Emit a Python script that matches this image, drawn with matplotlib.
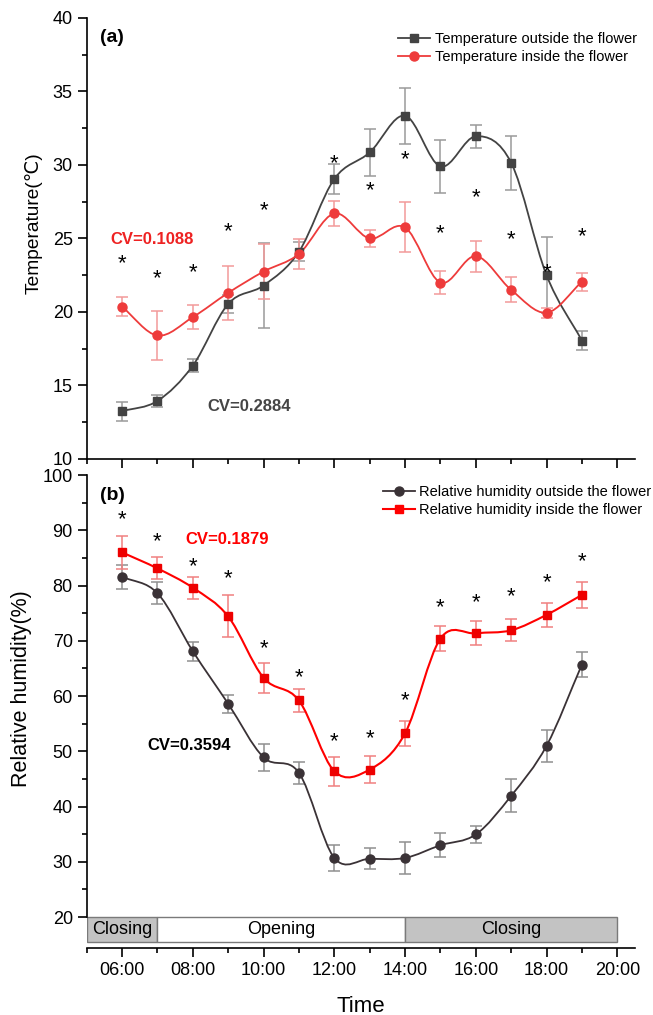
import numpy as np
import matplotlib
matplotlib.use('Agg')
import matplotlib.pyplot as plt
from matplotlib.path import Path
from matplotlib.patches import PathPatch, Rectangle
from matplotlib.lines import Line2D
from matplotlib.ticker import MultipleLocator, FixedLocator

plt.rcParams['font.family'] = ['Liberation Sans', 'DejaVu Sans']

# ---- data ----
hours = [6, 7, 8, 9, 10, 11, 12, 13, 14, 15, 16, 17, 18, 19]

temp_out = [13.25, 13.95, 16.35, 20.55, 21.8, 24.1, 29.05, 30.85, 33.35, 29.9, 31.95, 30.15, 22.5, 18.05]
temp_out_sd = [0.65, 0.4, 0.45, 0.6, 2.9, 0.65, 1.05, 1.6, 1.9, 1.8, 0.8, 1.85, 2.6, 0.65]
temp_in = [20.35, 18.4, 19.65, 21.3, 22.75, 23.95, 26.7, 25.0, 25.75, 22.0, 23.8, 21.5, 19.95, 22.05]
temp_in_sd = [0.65, 1.65, 0.8, 1.85, 1.9, 1.0, 0.85, 0.55, 1.7, 0.8, 1.05, 0.85, 0.35, 0.6]
temp_star_hours = [6, 7, 8, 9, 10, 12, 13, 14, 15, 16, 17, 18, 19]
temp_star_y = [23.3, 22.25, 22.65, 25.45, 26.9, 30.1, 28.25, 30.35, 25.35, 27.75, 24.9, 22.65, 25.1]

rh_out = [81.6, 78.6, 68.1, 58.6, 48.9, 46.1, 30.7, 30.55, 30.7, 33.0, 34.95, 41.95, 51.0, 65.7]
rh_out_sd = [2.2, 2.0, 1.7, 1.6, 2.4, 2.0, 2.4, 1.9, 2.9, 2.2, 1.5, 3.0, 2.9, 2.2]
rh_in = [86.0, 83.1, 79.6, 74.4, 63.3, 59.2, 46.4, 46.7, 53.25, 70.4, 71.35, 71.9, 74.7, 78.3]
rh_in_sd = [3.0, 2.0, 2.0, 3.8, 2.75, 2.0, 2.6, 2.5, 2.3, 2.2, 2.2, 2.0, 2.2, 2.4]
rh_star_hours = [6, 7, 8, 9, 10, 11, 12, 13, 14, 15, 16, 17, 18, 19]
rh_star_y = [92.0, 87.9, 83.5, 81.2, 68.5, 63.4, 51.7, 52.3, 59.1, 76.0, 76.9, 77.9, 80.6, 84.3]

phase_names = ['Closing', 'Opening', 'Closing']
phase_start = [5, 7, 14]
phase_end = [7, 14, 20]
phase_colors = ['#c3c3c3', 'white', '#c3c3c3']

tick_labels = ['06:00', '08:00', '10:00', '12:00', '14:00', '16:00', '18:00', '20:00']


def smooth_curve(ax, x, y, color, lw=1.3):
    # cubic bezier through the points (catmull-rom tangents)
    x = np.asarray(x, float)
    y = np.asarray(y, float)
    n = len(x)
    mx = np.gradient(x)
    my = np.gradient(y)
    verts = [(x[0], y[0])]
    codes = [Path.MOVETO]
    for i in range(n - 1):
        verts += [(x[i] + mx[i] / 3, y[i] + my[i] / 3),
                  (x[i + 1] - mx[i + 1] / 3, y[i + 1] - my[i + 1] / 3),
                  (x[i + 1], y[i + 1])]
        codes += [Path.CURVE4] * 3
    ax.add_patch(PathPatch(Path(verts, codes), fill=False, edgecolor=color, lw=lw, zorder=3))


def style_axis(ax):
    for s in ['top', 'right']:
        ax.spines[s].set_visible(False)
    for s in ['left', 'bottom']:
        ax.spines[s].set_linewidth(1.2)
    ax.xaxis.set_major_locator(FixedLocator([6, 8, 10, 12, 14, 16, 18, 20]))
    ax.xaxis.set_minor_locator(FixedLocator([5, 7, 9, 11, 13, 15, 17, 19]))
    ax.tick_params(which='major', direction='out', length=6.5, width=1.2, labelsize=13)
    ax.tick_params(which='minor', direction='out', length=3.5, width=1.2)
    ax.set_xlim(5, 20.5)


fig = plt.figure(figsize=(6.53, 10.15), dpi=100)
ax1 = fig.add_axes([0.1328, 0.5478, 0.8396, 0.4345])
ax2 = fig.add_axes([0.1328, 0.066, 0.8396, 0.466])

# ---- (a) temperature ----
c_out1 = '#434343'
c_in1 = '#ee3b3b'
style_axis(ax1)
ax1.set_ylim(10, 40)
ax1.yaxis.set_major_locator(MultipleLocator(5))
ax1.yaxis.set_minor_locator(MultipleLocator(2.5))
ax1.tick_params(axis='x', labelbottom=False)

ax1.errorbar(hours, temp_out, yerr=temp_out_sd, fmt='none', ecolor='#9a9a9a', elinewidth=1.1, capsize=4.5, capthick=1.1, zorder=2)
ax1.errorbar(hours, temp_in, yerr=temp_in_sd, fmt='none', ecolor='#f29a9a', elinewidth=1.1, capsize=4.5, capthick=1.1, zorder=2)
smooth_curve(ax1, hours, temp_out, c_out1)
smooth_curve(ax1, hours, temp_in, c_in1)
ax1.plot(hours, temp_out, ls='none', marker='s', ms=6, color=c_out1, zorder=4)
ax1.plot(hours, temp_in, ls='none', marker='o', ms=6.5, color=c_in1, zorder=4)
for h, yv in zip(temp_star_hours, temp_star_y):
    ax1.text(h, yv, '*', ha='center', va='center', fontsize=16, color='black', zorder=5)

ax1.text(0.025, 0.975, '(a)', transform=ax1.transAxes, fontsize=14, fontweight='bold', va='top')
ax1.text(6.85, 24.95, 'CV=0.1088', color='#ee2222', fontsize=12, fontweight='bold', ha='center', va='center')
ax1.text(9.6, 13.55, 'CV=0.2884', color='#454545', fontsize=12, fontweight='bold', ha='center', va='center')
ax1.set_ylabel('Temperature(\u2103)', fontsize=13.8)
ax1.yaxis.set_label_coords(-0.080, 0.535)

h1 = [Line2D([], [], color=c_out1, marker='s', ms=6, lw=1.3),
      Line2D([], [], color=c_in1, marker='o', ms=6.5, lw=1.3)]
ax1.legend(h1, ['Temperature outside the flower', 'Temperature inside the flower'],
           loc='upper left', bbox_to_anchor=(0.568, 0.968), frameon=False, fontsize=10.5,
           handlelength=2.2, handletextpad=0.3, labelspacing=0.3, borderpad=0, borderaxespad=0)

# ---- (b) relative humidity ----
c_out2 = '#3a3236'
c_in2 = '#ff0000'
style_axis(ax2)
ax2.set_ylim(14.4, 100)
ax2.spines['left'].set_bounds(20, 100)
ax2.yaxis.set_major_locator(FixedLocator([20, 30, 40, 50, 60, 70, 80, 90, 100]))
ax2.yaxis.set_minor_locator(FixedLocator([25, 35, 45, 55, 65, 75, 85, 95]))
ax2.set_xticklabels(tick_labels)

ax2.errorbar(hours, rh_out, yerr=rh_out_sd, fmt='none', ecolor='#8f8f8f', elinewidth=1.1, capsize=4.5, capthick=1.1, zorder=2)
ax2.errorbar(hours, rh_in, yerr=rh_in_sd, fmt='none', ecolor='#f08080', elinewidth=1.1, capsize=4.5, capthick=1.1, zorder=2)
smooth_curve(ax2, hours, rh_out, c_out2)
smooth_curve(ax2, hours, rh_in, c_in2, lw=1.5)
ax2.plot(hours, rh_out, ls='none', marker='o', ms=6.5, color=c_out2, zorder=4)
ax2.plot(hours, rh_in, ls='none', marker='s', ms=6, color='#ee0000', zorder=4)
for h, yv in zip(rh_star_hours, rh_star_y):
    ax2.text(h, yv, '*', ha='center', va='center', fontsize=16, color='black', zorder=5)

for name, x0, x1, col in zip(phase_names, phase_start, phase_end, phase_colors):
    ax2.add_patch(Rectangle((x0, 15.5), x1 - x0, 4.5, facecolor=col, edgecolor='#7a7a7a', lw=1.0, zorder=1))
    ax2.text((x0 + x1) / 2, 17.75, name, ha='center', va='center', fontsize=13, zorder=2)

ax2.text(0.025, 0.975, '(b)', transform=ax2.transAxes, fontsize=14, fontweight='bold', va='top')
ax2.text(8.97, 88.4, 'CV=0.1879', color='#ff0000', fontsize=12, fontweight='bold', ha='center', va='center')
ax2.text(7.9, 51.0, 'CV=0.3594', color='black', fontsize=12, fontweight='bold', ha='center', va='center')
ax2.set_ylabel('Relative humidity(%)', fontsize=15.5)
ax2.yaxis.set_label_coords(-0.0998, 0.549)
ax2.set_xlabel('Time', fontsize=16, labelpad=12)

h2 = [Line2D([], [], color=c_out2, marker='o', ms=6.5, lw=1.3),
      Line2D([], [], color=c_in2, marker='s', ms=6, lw=1.5)]
ax2.legend(h2, ['Relative humidity outside the flower', 'Relative humidity inside the flower'],
           loc='upper left', bbox_to_anchor=(0.540, 0.979), frameon=False, fontsize=10.5,
           handlelength=2.2, handletextpad=0.3, labelspacing=0.3, borderpad=0, borderaxespad=0)

fig.savefig('out.png', dpi=100)
